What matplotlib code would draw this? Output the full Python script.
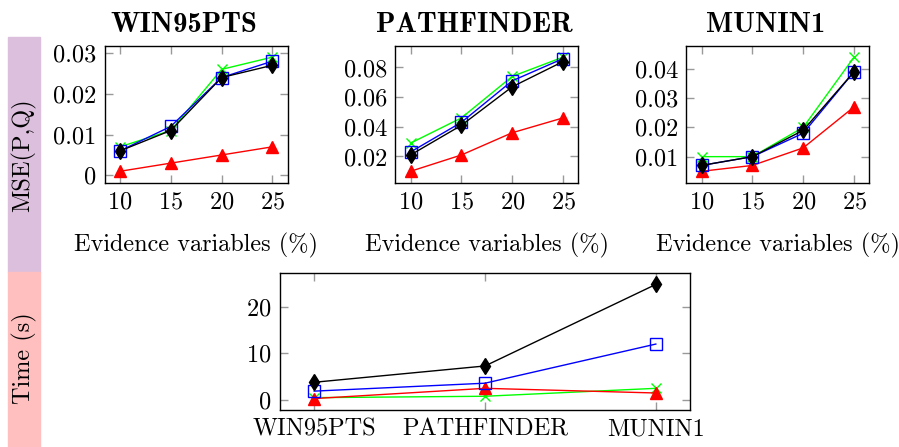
import numpy as np
import matplotlib.pyplot as plt
from matplotlib.patches import Rectangle

# Data
evidence = [10, 15, 20, 25]
datasets = ["WIN95PTS", "PATHFINDER", "MUNIN1"]

# MSE(P,Q) per dataset, one list per method
mse_black = {
    "WIN95PTS": [0.006, 0.011, 0.024, 0.027],
    "PATHFINDER": [0.021, 0.041, 0.067, 0.084],
    "MUNIN1": [0.007, 0.010, 0.019, 0.039],
}
mse_blue = {
    "WIN95PTS": [0.006, 0.012, 0.024, 0.028],
    "PATHFINDER": [0.023, 0.043, 0.071, 0.086],
    "MUNIN1": [0.007, 0.010, 0.018, 0.039],
}
mse_green = {
    "WIN95PTS": [0.007, 0.011, 0.026, 0.029],
    "PATHFINDER": [0.029, 0.046, 0.074, 0.087],
    "MUNIN1": [0.010, 0.010, 0.020, 0.044],
}
mse_red = {
    "WIN95PTS": [0.001, 0.003, 0.005, 0.007],
    "PATHFINDER": [0.010, 0.021, 0.036, 0.046],
    "MUNIN1": [0.005, 0.007, 0.013, 0.027],
}
mse_yticks = {
    "WIN95PTS": [0, 0.01, 0.02, 0.03],
    "PATHFINDER": [0.02, 0.04, 0.06, 0.08],
    "MUNIN1": [0.01, 0.02, 0.03, 0.04],
}
mse_yticklabels = {
    "WIN95PTS": ["0", "0.01", "0.02", "0.03"],
    "PATHFINDER": ["0.02", "0.04", "0.06", "0.08"],
    "MUNIN1": ["0.01", "0.02", "0.03", "0.04"],
}

# Running time (s) per dataset
time_black = [3.8, 7.3, 24.8]
time_blue = [1.9, 3.6, 12.0]
time_green = [0.5, 0.8, 2.5]
time_red = [0.3, 2.5, 1.5]

plt.rcParams['font.family'] = 'cmr10'
plt.rcParams['mathtext.fontset'] = 'cm'
plt.rcParams['axes.unicode_minus'] = False
plt.rcParams['axes.formatter.use_mathtext'] = True

W, H = 899, 447
FS = 17.5
fig = plt.figure(figsize=(W / 100, H / 100), dpi=100)


def px_axes(left, top, right, bottom):
    return fig.add_axes([left / W, 1 - bottom / H, (right - left) / W, (bottom - top) / H])


def style(ax):
    ax.margins(0.1)
    ax.tick_params(direction='in', length=6, width=1, color='#999999',
                   top=True, right=True, labelsize=FS, pad=6)
    for s in ax.spines.values():
        s.set_linewidth(1)


def draw(ax, x, ys):
    black, blue, green, red = ys
    ax.plot(x, green, color='#00ff00', lw=1, marker='x', ms=7, mew=1)
    ax.plot(x, red, color='red', lw=1, marker='^', ms=8, mec='red')
    ax.plot(x, blue, color='blue', lw=1, marker='s', ms=9, mfc='none', mew=1)
    ax.plot(x, black, color='black', lw=1, marker='d', ms=8)


# side bands
fig.patches.append(Rectangle((8 / W, 1 - 272 / H), 32 / W, 235 / H,
                             transform=fig.transFigure, color='#dcbedd', zorder=0))
fig.patches.append(Rectangle((8 / W, 0), 32 / W, 175 / H,
                             transform=fig.transFigure, color='#ffbfbf', zorder=0))
fig.text(24 / W, 1 - 155 / H, "MSE(P,Q)", rotation=90, ha='center', va='center', fontsize=FS)
fig.text(24 / W, 1 - 358 / H, "Time (s)", rotation=90, ha='center', va='center', fontsize=FS)

lefts = [104.7, 395.3, 686.3]
for name, left in zip(datasets, lefts):
    ax = px_axes(left, 45.7, left + 183, 182.7)
    draw(ax, evidence, [mse_black[name], mse_blue[name], mse_green[name], mse_red[name]])
    style(ax)
    ax.set_xticks(evidence)
    ax.set_yticks(mse_yticks[name])
    ax.set_yticklabels(mse_yticklabels[name])
    ax.set_title(name, fontfamily='cmb10', fontsize=20.5, pad=10, x=0.5 - 12 / 183)
    ax.set_xlabel("Evidence variables (%)", fontsize=FS, labelpad=14)

# bottom: time
ax = px_axes(280, 273, 690, 410)
xs = np.arange(len(datasets))
draw(ax, xs, [time_black, time_blue, time_green, time_red])
style(ax)
ax.set_xticks(xs)
ax.set_xticklabels(datasets)
ax.set_yticks([0, 10, 20])

fig.savefig("out.png", dpi=100)
